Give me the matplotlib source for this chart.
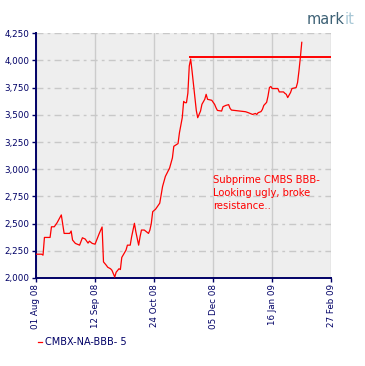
import matplotlib
matplotlib.use("Agg")
import matplotlib.pyplot as plt
import matplotlib.dates as mdates
from matplotlib.ticker import FuncFormatter
import pandas as pd

# ---- data ----
dates = [
    "2008-08-01", "2008-08-05", "2008-08-06", "2008-08-07", "2008-08-11", "2008-08-12",
    "2008-08-14", "2008-08-16", "2008-08-19", "2008-08-21", "2008-08-25", "2008-08-26",
    "2008-08-27", "2008-08-29", "2008-09-01", "2008-09-03", "2008-09-05", "2008-09-07",
    "2008-09-08", "2008-09-10", "2008-09-12", "2008-09-15", "2008-09-16", "2008-09-17",
    "2008-09-18", "2008-09-20", "2008-09-21", "2008-09-23", "2008-09-24", "2008-09-26",
    "2008-09-27", "2008-09-29", "2008-09-30", "2008-10-01", "2008-10-04", "2008-10-05",
    "2008-10-07", "2008-10-08", "2008-10-10", "2008-10-11", "2008-10-13", "2008-10-14",
    "2008-10-15", "2008-10-17", "2008-10-20", "2008-10-21", "2008-10-22", "2008-10-23",
    "2008-10-25", "2008-10-28", "2008-10-30", "2008-11-01", "2008-11-04", "2008-11-06",
    "2008-11-07", "2008-11-10", "2008-11-11", "2008-11-13", "2008-11-14", "2008-11-15",
    "2008-11-16", "2008-11-17", "2008-11-18", "2008-11-19", "2008-11-20", "2008-11-21",
    "2008-11-22", "2008-11-23", "2008-11-24", "2008-11-26", "2008-11-27", "2008-11-29",
    "2008-11-30", "2008-12-01", "2008-12-04", "2008-12-06", "2008-12-07", "2008-12-08",
    "2008-12-11", "2008-12-12", "2008-12-14", "2008-12-16", "2008-12-17", "2008-12-18",
    "2008-12-24", "2008-12-28", "2008-12-30", "2009-01-02", "2009-01-04", "2009-01-05",
    "2009-01-06", "2009-01-08", "2009-01-09", "2009-01-10", "2009-01-12", "2009-01-13",
    "2009-01-14", "2009-01-15", "2009-01-16", "2009-01-20", "2009-01-21", "2009-01-24",
    "2009-01-25", "2009-01-26", "2009-01-27", "2009-01-29", "2009-01-30", "2009-02-02",
    "2009-02-03", "2009-02-04", "2009-02-05", "2009-02-06",
]
values = [
    2219, 2219, 2210, 2373, 2373, 2471,
    2471, 2508, 2580, 2410, 2410, 2432,
    2349, 2318, 2302, 2370, 2358, 2321,
    2339, 2318, 2311, 2410, 2440, 2469,
    2148, 2117, 2099, 2085, 2071, 2009,
    2053, 2085, 2078, 2189, 2256, 2302,
    2302, 2379, 2503, 2425, 2302, 2379,
    2441, 2441, 2410, 2441, 2503, 2610,
    2632, 2688, 2841, 2934, 3011, 3104,
    3211, 3236, 3335, 3474, 3624, 3612,
    3612, 3700, 3950, 4013, 3900, 3780,
    3660, 3540, 3474, 3535, 3597, 3643,
    3689, 3643, 3634, 3597, 3566, 3541,
    3535, 3575, 3587, 3594, 3560, 3544,
    3535, 3529, 3520, 3504, 3513, 3504,
    3520, 3530, 3550, 3587, 3615, 3673,
    3751, 3761, 3742, 3742, 3711, 3711,
    3698, 3689, 3659, 3705, 3742, 3751,
    3797, 3904, 4028, 4167,
]
series_name = "CMBX-NA-BBB- 5"
resistance_level = 4028
resistance_start = "2008-11-18"
x_ticks = ["2008-08-01", "2008-09-12", "2008-10-24", "2008-12-05", "2009-01-16", "2009-02-27"]
y_ticks = [2000, 2250, 2500, 2750, 3000, 3250, 3500, 3750, 4000, 4250]
note = "Subprime CMBS BBB-\nLooking ugly, broke\nresistance.."
note_date = "2008-12-05"
note_value = 2945

NAVY = "#000066"
RED = "#ff0000"

dts = pd.to_datetime(dates)
xt = pd.to_datetime(x_ticks)

fig = plt.figure(figsize=(3.65, 3.66), dpi=100)
ax = fig.add_axes([36 / 365, 1 - 278 / 366, (331.3 - 36) / 365, (278 - 33.3) / 366])
ax.set_facecolor("#eeeeee")

line, = ax.plot(dts, values, color=RED, lw=0.9, label=series_name, zorder=3)
ax.hlines(resistance_level, pd.Timestamp(resistance_start), xt[-1], color=RED, lw=1.4, zorder=3)

ax.set_xlim(xt[0], xt[-1])
ax.set_ylim(y_ticks[0], y_ticks[-1])
ax.set_xticks(xt)
ax.xaxis.set_major_formatter(mdates.DateFormatter("%d %b %y"))
ax.set_yticks(y_ticks)
ax.yaxis.set_major_formatter(FuncFormatter(lambda v, p: f"{v:,.0f}"))

ax.xaxis.grid(True, ls="-", color="#cccccc", lw=1.0, zorder=1)
ax.yaxis.grid(True, ls=(0, (5, 3, 2, 3)), color="#c8c8c8", lw=1.0, zorder=1)
ax.set_axisbelow(True)

for s in ("top", "right"):
    ax.spines[s].set_visible(False)
for s in ("left", "bottom"):
    ax.spines[s].set_color(NAVY)
    ax.spines[s].set_linewidth(1.4)

ax.tick_params(axis="both", direction="out", length=3, width=1, color=NAVY,
               labelcolor=NAVY, labelsize=6.3, pad=1.5)
plt.setp(ax.get_xticklabels(), rotation=90)

ax.text(pd.Timestamp(note_date), note_value, note, color=RED, fontsize=7.2,
        va="top", ha="left", linespacing=1.35, zorder=4)

fig.legend(handles=[line], labels=[series_name], loc="center left",
           bbox_to_anchor=(38 / 365, 1 - 342 / 366), frameon=False,
           borderpad=0, borderaxespad=0, handlelength=0.45, handletextpad=0.3,
           prop={"size": 7}, labelcolor=NAVY)

t1 = fig.text(307 / 365, 1 - 24 / 366, "mark", color="#3d6175", fontsize=10.5,
              family="DejaVu Sans", ha="left", va="baseline")
ax.annotate("it", xy=(1, 0), xycoords=t1, color="#a8c8d6", fontsize=10.5,
            family="DejaVu Sans", ha="left", va="bottom", annotation_clip=False)

fig.savefig("out.png", dpi=100)
